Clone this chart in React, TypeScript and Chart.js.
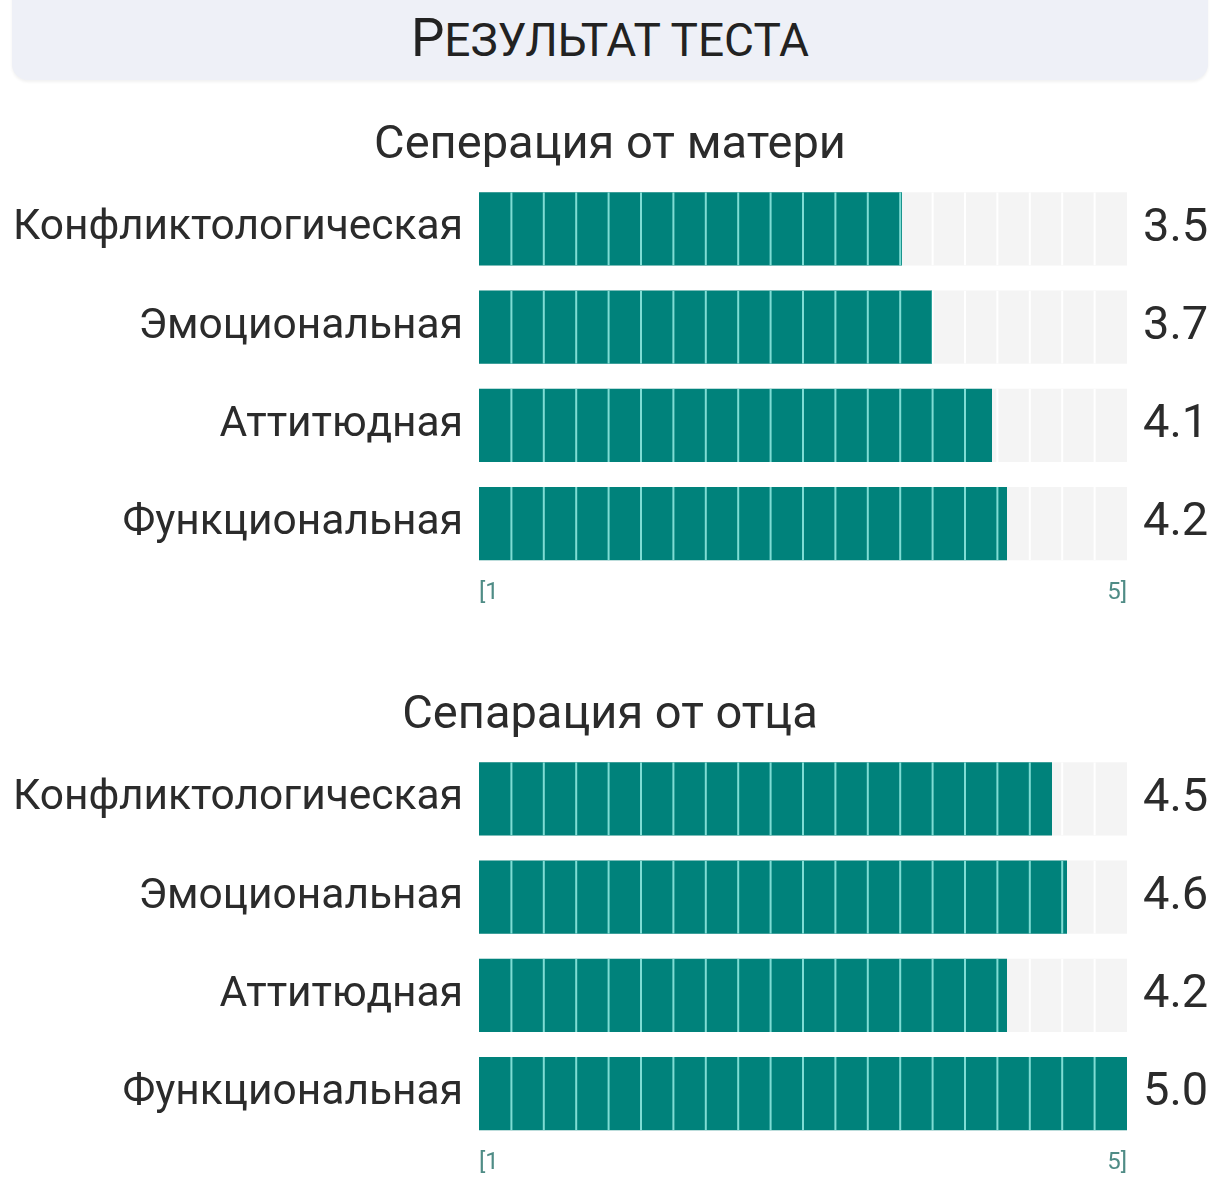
import React, { useEffect, useRef } from 'react';
import { Chart, registerables } from 'chart.js';

Chart.register(...registerables);

// --- data ---
const CATEGORIES = ['Конфликтологическая', 'Эмоциональная', 'Аттитюдная', 'Функциональная'];
const MOTHER_TITLE = 'Сеперация от матери';
const MOTHER_VALUES = [3.5, 3.7, 4.1, 4.2];
const FATHER_TITLE = 'Сепарация от отца';
const FATHER_VALUES = [4.5, 4.6, 4.2, 5.0];
const AXIS_LABELS = ['[1', '5]'];

// the bar track in the picture starts a little below 1 (the bar of 1 is not empty)
const SCALE_MIN = 0.68;
const SCALE_MAX = 5;
const SEGMENTS = 20;

const TEAL = '#00827b';
const TRACK = '#f4f4f4';
const TEXT = '#2b2b2b';
const FONT = 'Roboto';

// draws the thin dividers that cut each bar into blocks
const segmentPlugin = {
  id: 'segments',
  afterDatasetDraw(chart: any, args: any) {
    const ds: any = chart.data.datasets[args.index];
    if (!ds.segmentColor) return;
    const { ctx } = chart;
    const xs = chart.scales.x;
    args.meta.data.forEach((bar: any) => {
      const { x, y, base, height } = bar.getProps(['x', 'y', 'base', 'height'], true);
      const left = Math.min(base, x);
      const right = Math.max(base, x);
      const top = y - height / 2;
      ctx.save();
      ctx.beginPath();
      ctx.rect(left, top, right - left, height);
      ctx.clip();
      ctx.strokeStyle = ds.segmentColor;
      ctx.lineWidth = 2;
      for (let k = 1; k < SEGMENTS; k++) {
        const px = xs.getPixelForValue(SCALE_MIN + ((SCALE_MAX - SCALE_MIN) * k) / SEGMENTS);
        ctx.beginPath();
        ctx.moveTo(px, top);
        ctx.lineTo(px, top + height);
        ctx.stroke();
      }
      ctx.restore();
    });
  },
};

type SectionProps = { title: string; values: number[] };

const SectionChart: React.FC<SectionProps> = ({ title, values }) => {
  const canvasRef = useRef<HTMLCanvasElement | null>(null);

  useEffect(() => {
    const canvas = canvasRef.current;
    if (!canvas) return;
    const ctx = canvas.getContext('2d');
    if (!ctx) return;

    const chart = new Chart(ctx, {
      type: 'bar',
      data: {
        labels: CATEGORIES,
        datasets: [
          {
            label: 'value',
            data: values,
            backgroundColor: TEAL,
            grouped: false,
            order: 1,
            segmentColor: '#7fdcd4',
          } as any,
          {
            label: 'track',
            data: values.map(() => SCALE_MAX),
            backgroundColor: TRACK,
            grouped: false,
            order: 2,
            segmentColor: '#ffffff',
          } as any,
        ],
      },
      options: {
        indexAxis: 'y',
        responsive: true,
        maintainAspectRatio: false,
        animation: false,
        categoryPercentage: 1,
        barPercentage: 0.745,
        layout: { padding: { top: 0, bottom: 0, left: 0, right: 0 } },
        plugins: {
          legend: { display: false },
          tooltip: { enabled: false },
          title: {
            display: true,
            text: title,
            color: TEXT,
            font: { family: FONT, size: 47, weight: 'normal', lineHeight: 1.1 },
            padding: { top: 2, bottom: 8 },
          },
        },
        scales: {
          x: {
            type: 'linear',
            min: SCALE_MIN,
            max: SCALE_MAX,
            grid: { display: false, drawTicks: false },
            border: { display: false },
            afterBuildTicks: (scale: any) => {
              scale.ticks = [{ value: SCALE_MIN }, { value: SCALE_MAX }];
            },
            ticks: {
              align: 'inner',
              padding: 6,
              color: '#4f8c86',
              font: { family: FONT, size: 24, lineHeight: 1.2 },
              callback: (_v: any, i: number) => AXIS_LABELS[i],
            },
          },
          y: {
            type: 'category',
            position: 'left',
            grid: { display: false, drawTicks: false },
            border: { display: false },
            afterFit: (scale: any) => {
              scale.width = 479;
            },
            ticks: {
              padding: 16,
              color: TEXT,
              font: { family: FONT, size: 42.5 },
            },
          },
          y2: {
            type: 'category',
            position: 'right',
            labels: values.map((v) => v.toFixed(1)),
            grid: { display: false, drawTicks: false },
            border: { display: false },
            afterFit: (scale: any) => {
              scale.width = 93;
            },
            ticks: {
              padding: 16,
              color: TEXT,
              font: { family: FONT, size: 47 },
            },
          },
        },
      } as any,
      plugins: [segmentPlugin],
    });

    return () => chart.destroy();
  }, [title, values]);

  return (
    <div style={{ height: 499, width: 1220, position: 'relative' }}>
      <canvas ref={canvasRef} />
    </div>
  );
};

export default function App() {
  useEffect(() => {
    document.body.style.margin = '0';
  }, []);

  return (
    <div style={{ width: 1220, position: 'relative', background: '#fff', fontFamily: FONT }}>
      <div
        style={{
          position: 'absolute',
          left: 12,
          top: -20,
          width: 1196,
          height: 100,
          background: '#eef0f7',
          borderRadius: 16,
          boxShadow: '0 2px 3px rgba(0,0,0,0.06)',
        }}
      />
      <div
        style={{
          position: 'absolute',
          left: 0,
          top: 0,
          width: 1220,
          height: 76,
          lineHeight: '76px',
          textAlign: 'center',
          color: '#222',
          whiteSpace: 'nowrap',
        }}
      >
        <span style={{ fontSize: 53 }}>Р</span>
        <span style={{ fontSize: 46, textTransform: 'uppercase' }}>езультат теста</span>
      </div>
      <div style={{ height: 118 }} />
      <SectionChart title={MOTHER_TITLE} values={MOTHER_VALUES} />
      <div style={{ height: 71 }} />
      <SectionChart title={FATHER_TITLE} values={FATHER_VALUES} />
    </div>
  );
}
